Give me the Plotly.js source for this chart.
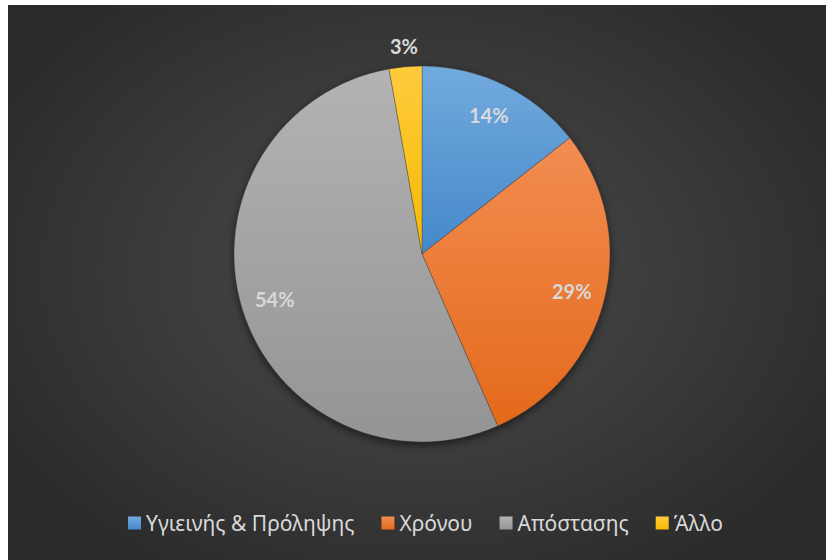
<!DOCTYPE html>
<html>
<head>
<meta charset="utf-8">
<script src="https://cdn.plot.ly/plotly-3.0.1.min.js"></script>
<style>
  html, body { margin:0; padding:0; background:#ffffff; width:826px; height:560px; overflow:hidden; }
  #wrap { position:absolute; left:8px; top:5px; width:818px; height:555px;
    background: radial-gradient(ellipse 60% 65% at 50% 48%, #4b4b4b 0%, #3c3c3c 50%, #2a2a2a 100%); }
  #chart { width:818px; height:555px; }
  .pielayer { filter: drop-shadow(0px 3px 4px rgba(0,0,0,0.55)); }
</style>
</head>
<body>
<div id="wrap"><div id="chart"></div></div>
<script>
const categories = ["Υγιεινής & Πρόληψης", "Χρόνου", "Απόστασης", "Άλλο"];
const shares = [14.4, 29.0, 53.8, 2.8];
const labelPlacement = ["inside", "inside", "inside", "outside"];
const colors = ["#5b9bd5", "#ed7d31", "#a5a5a5", "#ffc000"];
const gradTop = ["#72aade", "#f28d52", "#b3b3b3", "#ffcb3d"];
const gradBottom = ["#4588c9", "#e4691a", "#949494", "#f5bb00"];

const W = 818, H = 555;
const dom = { x: [0.2763, 0.7359], y: [0.2126, 0.8901] };

const trace = {
  type: "pie",
  labels: categories,
  values: shares,
  sort: false,
  direction: "clockwise",
  rotation: 0,
  marker: { colors: colors, line: { color: "rgba(60,60,60,0.6)", width: 0.6 } },
  textinfo: "none",
  domain: dom,
  hoverinfo: "label+percent",
  automargin: false
};

// percentage labels placed along each slice's mid-angle, derived from the data
const total = shares.reduce((a, b) => a + b, 0);
const cx = (dom.x[0] + dom.x[1]) / 2, cy = (dom.y[0] + dom.y[1]) / 2;
const rPx = Math.min((dom.x[1] - dom.x[0]) * W, (dom.y[1] - dom.y[0]) * H) / 2;
let cum = 0;
const annotations = shares.map(function (v, i) {
  const mid = (cum + v / 2) / total * 2 * Math.PI;
  cum += v;
  const rr = labelPlacement[i] === "inside" ? 0.82 * rPx : 1.11 * rPx;
  return {
    xref: "paper", yref: "paper",
    x: cx + rr * Math.sin(mid) / W,
    y: cy + rr * Math.cos(mid) / H,
    xanchor: "center", yanchor: "middle", showarrow: false,
    text: "<b>" + Math.round(v / total * 100) + "%</b>",
    font: { family: "Lato, 'Noto Sans', sans-serif", size: 20, color: "#d9d9d9" }
  };
});

const layout = {
  width: W, height: H,
  margin: { l: 0, r: 0, t: 0, b: 0 },
  paper_bgcolor: "rgba(0,0,0,0)",
  plot_bgcolor: "rgba(0,0,0,0)",
  showlegend: true,
  annotations: annotations,
  legend: {
    orientation: "h", x: 0.5, xanchor: "center", y: 0.066, yanchor: "middle",
    font: { family: "'Noto Sans', sans-serif", size: 21, color: "#d9d9d9" },
    bgcolor: "rgba(0,0,0,0)", traceorder: "normal", itemwidth: 30
  }
};

Plotly.newPlot("chart", [trace], layout, { displayModeBar: false, staticPlot: true }).then(function (gd) {
  const svg = gd.querySelector(".main-svg");
  const ns = "http://www.w3.org/2000/svg";
  let defs = svg.querySelector("defs");
  if (!defs) { defs = document.createElementNS(ns, "defs"); svg.insertBefore(defs, svg.firstChild); }
  colors.forEach(function (c, i) {
    const g = document.createElementNS(ns, "linearGradient");
    g.setAttribute("id", "sg" + i);
    g.setAttribute("x1", "0"); g.setAttribute("y1", "0"); g.setAttribute("x2", "0"); g.setAttribute("y2", "1");
    const s1 = document.createElementNS(ns, "stop"); s1.setAttribute("offset", "0"); s1.setAttribute("stop-color", gradTop[i]);
    const s2 = document.createElementNS(ns, "stop"); s2.setAttribute("offset", "1"); s2.setAttribute("stop-color", gradBottom[i]);
    g.appendChild(s1); g.appendChild(s2); defs.appendChild(g);
  });
  gd.querySelectorAll(".pielayer .slice path.surface").forEach(function (p, i) {
    p.style.fill = "url(#sg" + i + ")";
  });
  gd.querySelectorAll(".legend .legendpoints path").forEach(function (p, i) {
    p.style.fill = "url(#sg" + i + ")";
    p.style.stroke = "none";
    p.setAttribute("d", "M6.5,6.5V-6.5H-6.5V6.5Z");
    p.setAttribute("transform", "translate(28.5,0)");
  });
});
</script>
</body>
</html>
